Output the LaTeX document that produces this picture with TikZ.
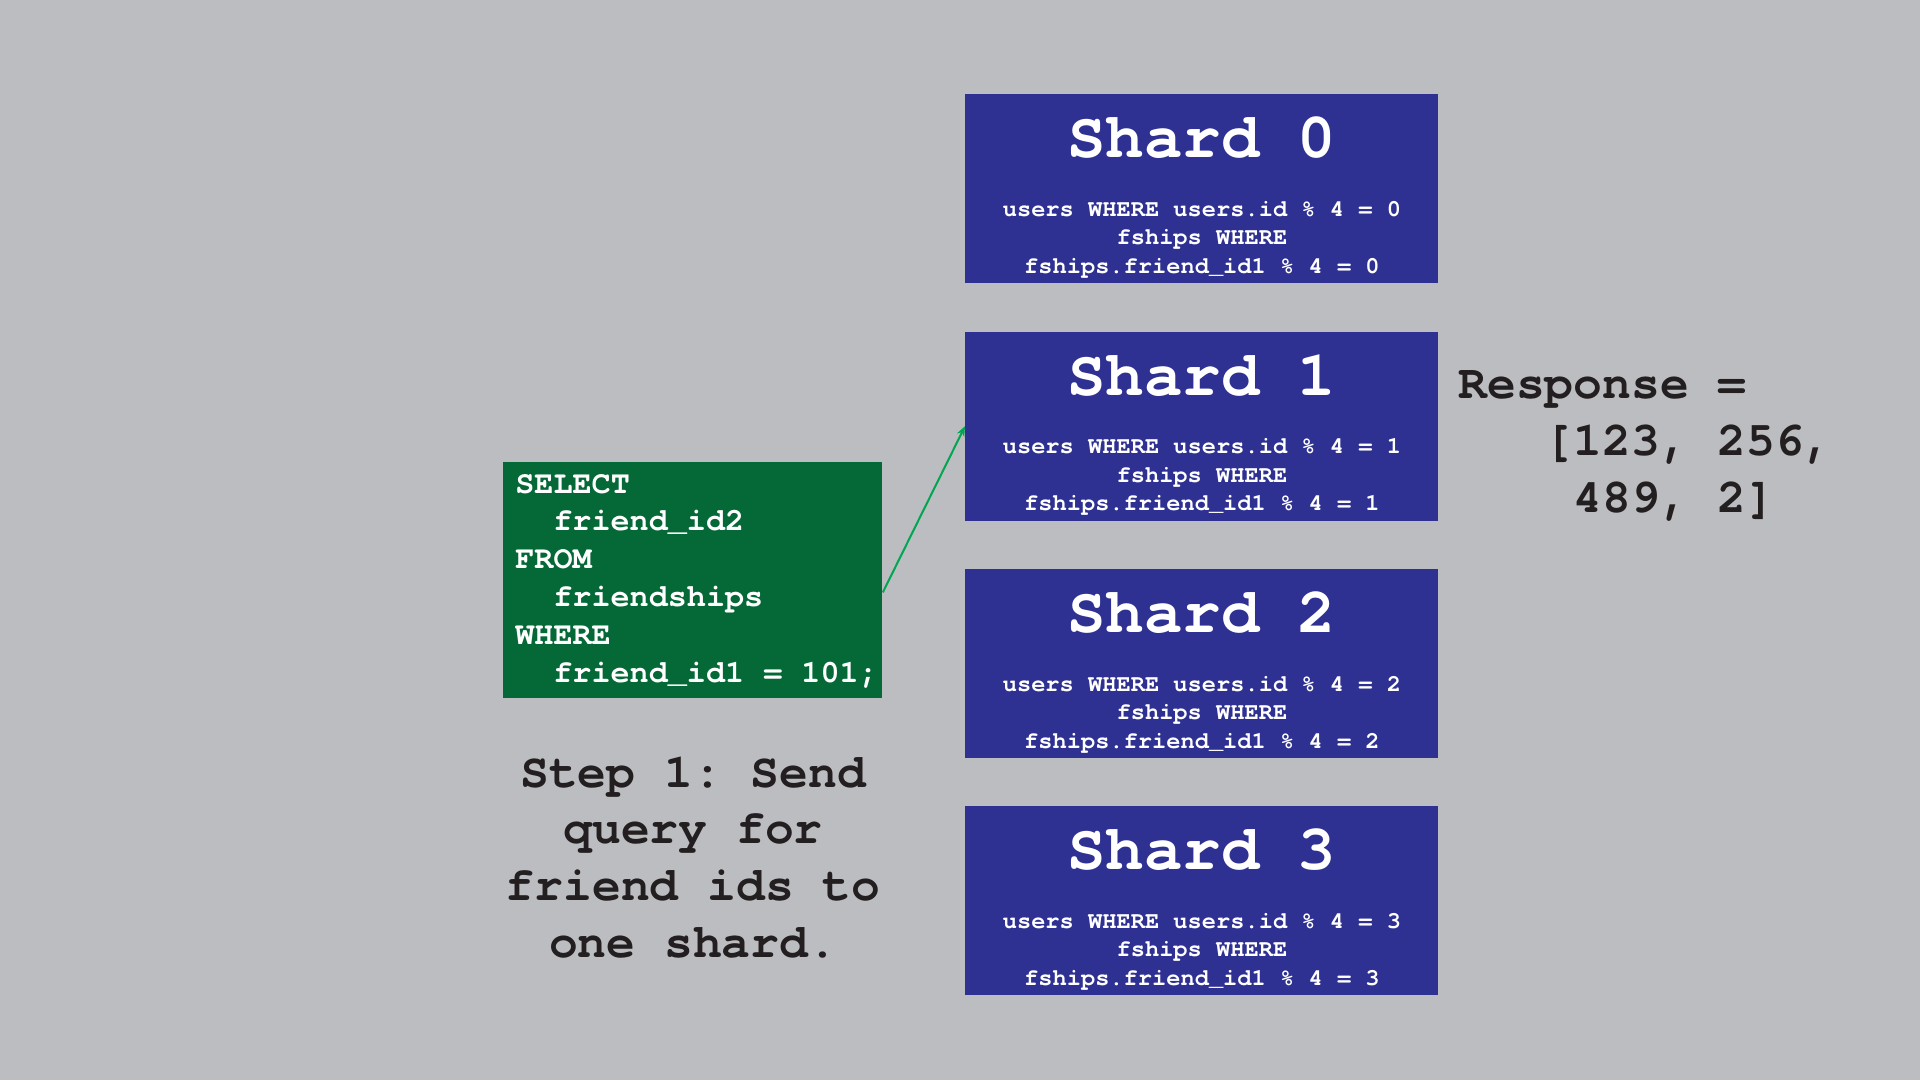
\documentclass[tikz,border=0pt]{standalone}
\usepackage{fontspec}
\setmonofont{texgyrecursor}[Extension=.otf, UprightFont=*-regular, BoldFont=*-bold]
\usetikzlibrary{arrows.meta,calc}
\definecolor{bg}{HTML}{BCBDC0}
\definecolor{shardblue}{HTML}{2E3192}
\definecolor{qgreen}{HTML}{056937}
\definecolor{arrowgreen}{HTML}{00A651}
\definecolor{ink}{HTML}{231F20}
\tikzset{
  shardbox/.style={fill=shardblue, minimum width=236.5pt, minimum height=94.5pt, inner sep=0pt, anchor=north west},
  querybox/.style={fill=qgreen, minimum width=189.5pt, minimum height=118pt, inner sep=0pt, anchor=north west},
  shardtitle/.style={text=white, inner sep=0pt, anchor=base, font=\ttfamily\bfseries\fontsize{32}{32}\selectfont},
  shardbody/.style={text=white, inner sep=0pt, anchor=base, font=\ttfamily\bfseries\fontsize{11.85}{14}\selectfont},
  qline/.style={text=white, inner sep=0pt, anchor=base west, font=\ttfamily\bfseries\fontsize{15.9}{19}\selectfont},
  bigtext/.style={text=ink, inner sep=0pt, font=\ttfamily\bfseries\fontsize{24}{28}\selectfont},
  link/.style={draw=arrowgreen, line width=1pt, -{Stealth[length=5pt,width=4pt]}}
}
\begin{document}
\begin{tikzpicture}[x=0.5pt,y=-0.5pt]
\fill[bg] (0,0) rectangle (1920,1080);
\useasboundingbox (0,0) rectangle (1920,1080);

\foreach \i in {0,...,3} {
  \pgfmathsetmacro\ytop{94+237.3*\i}
  \node[shardbox] (shard\i) at (965,\ytop) {};
  \node[shardtitle] (title\i) at ($(shard\i.north)+(0,64)$) {Shard \i};
  \node[shardbody] (bodya\i) at ($(shard\i.north)+(0,122.5)$) {users WHERE users.id \% 4 = \i};
  \node[shardbody] (bodyb\i) at ($(shard\i.north)+(0,151)$) {fships WHERE};
  \node[shardbody] (bodyc\i) at ($(shard\i.north)+(0,179.5)$) {fships.friend\_id1 \% 4 = \i};
}

\node[querybox] (query) at (503,462) {};
\node[qline] (q1) at (515,493) {SELECT};
\node[qline] (q2) at (553,530.8) {friend\_id2};
\node[qline] (q3) at (515,568.6) {FROM};
\node[qline] (q4) at (553,606.4) {friendships};
\node[qline] (q5) at (515,644.2) {WHERE};
\node[qline] (q6) at (553,682) {friend\_id1 = 101;};

\coordinate (qout) at ($(query.east)+(0,12)$);
\draw[link] (qout) -- (shard1.west);

\node[bigtext, anchor=base west] (r1) at (1458,398) {Response =};
\node[bigtext, anchor=base west] (r2) at (1458,455) {\phantom{xxx}[123, 256,};
\node[bigtext, anchor=base west] (r3) at (1458,512) {\phantom{xxxx}489, 2]};

\node[bigtext, anchor=base] (s1) at (693,787) {Step 1: Send};
\node[bigtext, anchor=base] (s2) at (693,843.7) {query for};
\node[bigtext, anchor=base] (s3) at (693,900.4) {friend ids to};
\node[bigtext, anchor=base] (s4) at (693,957) {one shard.};
\end{tikzpicture}
\end{document}
